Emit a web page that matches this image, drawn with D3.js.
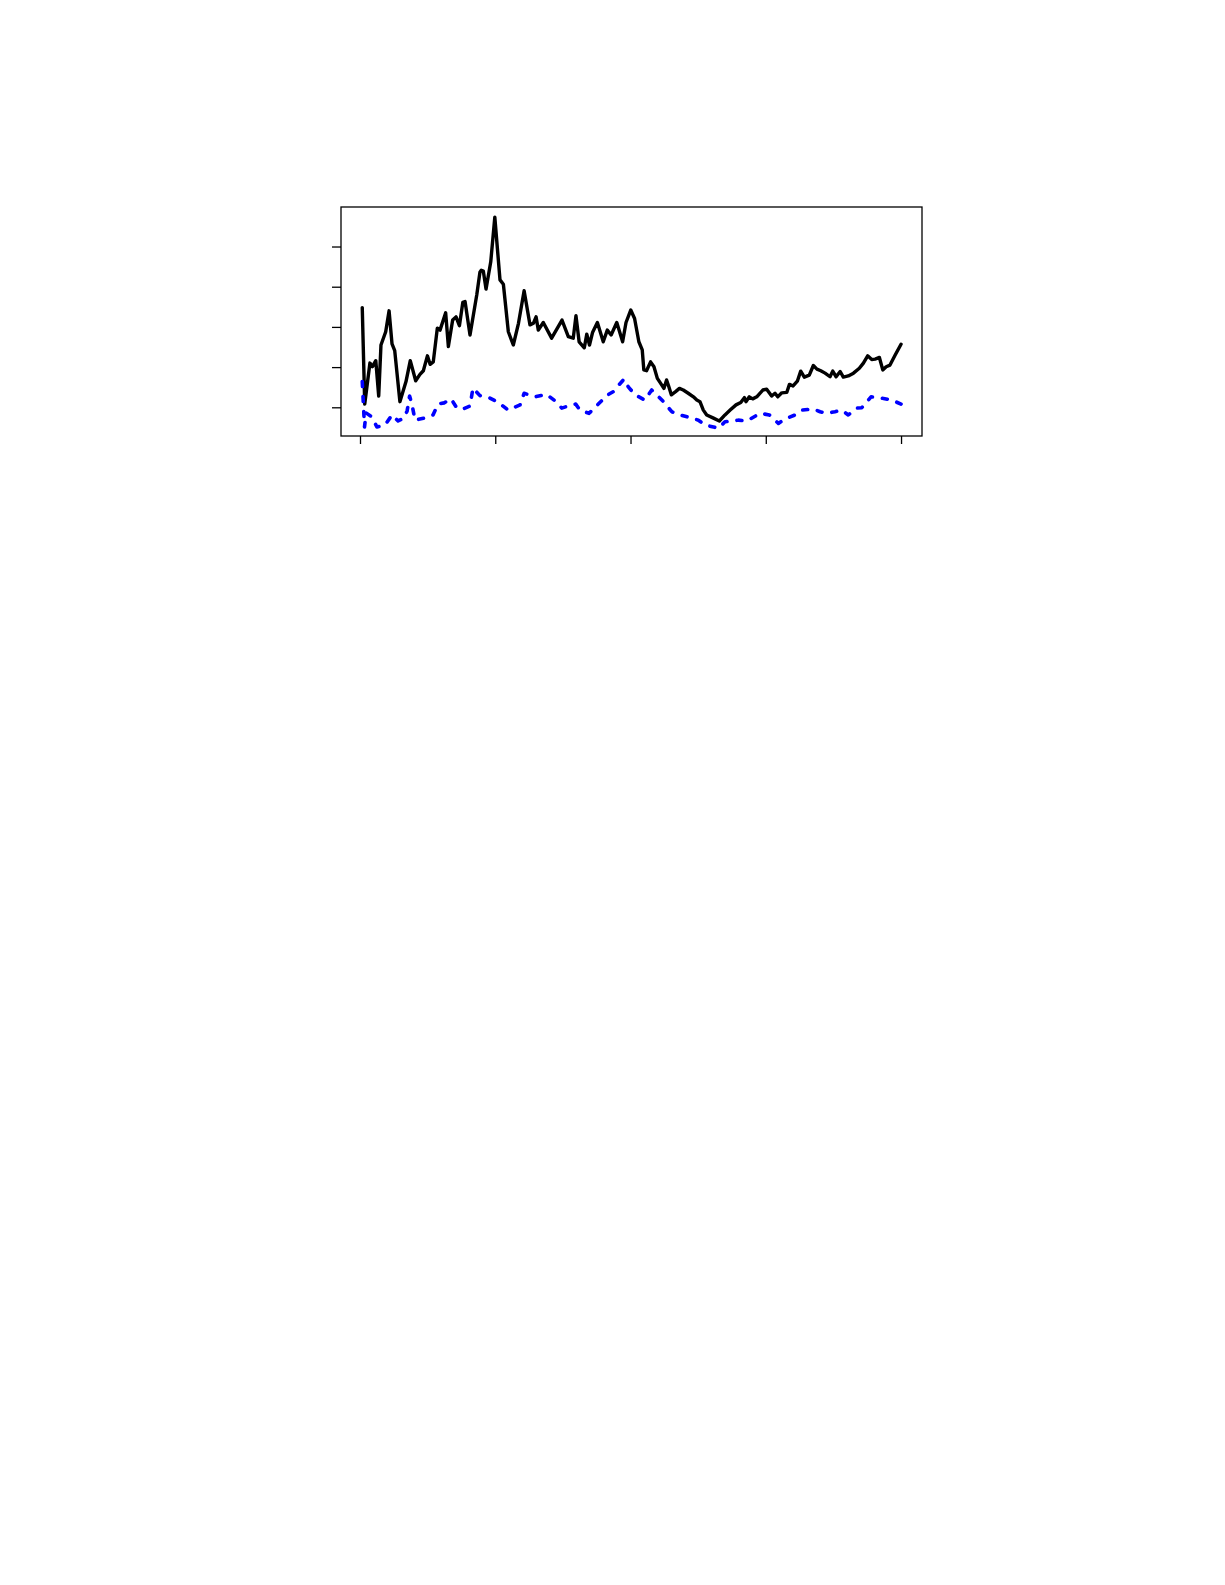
<!DOCTYPE html>
<html>
<head>
<meta charset="utf-8">
<script src="https://cdn.jsdelivr.net/npm/d3@7"></script>
<style>
  html, body { margin: 0; padding: 0; background: #fff; }
  svg { display: block; }
</style>
</head>
<body>
<div id="chart"></div>
<script>
// time index (months) and values
var blackT = [1.0, 2.1, 4.4, 5.5, 7.0, 8.3, 9.3, 11.4, 12.9, 14.2, 15.4, 17.7, 20.4, 22.3, 24.7, 26.6, 28.1, 29.9, 31.1, 32.5,
    34.3, 35.5, 38.0, 39.2, 41.1, 42.6, 44.1, 45.6, 46.6, 48.8, 51.8, 53.2, 53.8, 54.7, 55.9, 58.0, 59.8, 62.1, 63.6, 65.8, 68.0,
    70.3, 72.8, 75.4, 76.9, 78.1, 79.1, 81.3, 85.0, 89.6, 92.4, 94.6, 95.8, 97.2, 99.5, 100.6, 101.8, 103.2, 105.3, 107.9, 109.7, 111.4,
    113.9, 116.5, 118.0, 120.1, 121.8, 123.7, 125.2, 125.9, 127.1, 128.9, 130.4, 131.9, 133.3, 134.8, 136.0, 136.9, 138.1, 140.0, 141.7,
    143.4, 145.6, 147.9, 149.4, 150.8, 152.3, 153.8, 156.8, 159.4, 161.9, 164.2, 166.8, 168.9, 170.5, 171.2, 172.7, 174.2, 176.0,
    178.7, 180.4, 182.6, 184.1, 185.3, 187.1, 189.3, 190.5, 192.1, 194.0, 195.5, 197.1, 199.3, 201.1, 202.7, 204.4, 206.3, 208.5,
    209.7, 211.2, 213.0, 214.4, 216.6, 218.9, 221.5, 223.3, 225.2, 227.0, 228.5, 230.4, 231.9, 233.4, 235.1, 237.4, 240.0];
var blackV = [3.48, 1.08, 2.10, 2.01, 2.16, 1.28, 2.55, 2.88, 3.40, 2.58, 2.41, 1.14, 1.64, 2.16, 1.66, 1.82, 1.91, 2.28, 2.07, 2.13,
    2.97, 2.92, 3.35, 2.51, 3.17, 3.25, 3.03, 3.61, 3.63, 2.80, 3.80, 4.36, 4.41, 4.39, 3.94, 4.62, 5.73, 4.17, 4.06, 2.88, 2.55,
    3.09, 3.90, 3.05, 3.09, 3.25, 2.92, 3.11, 2.72, 3.17, 2.76, 2.72, 3.28, 2.63, 2.48, 2.82, 2.55, 2.87, 3.11, 2.63, 2.92, 2.80,
    3.11, 2.63, 3.11, 3.42, 3.21, 2.63, 2.43, 1.93, 1.91, 2.13, 2.01, 1.72, 1.60, 1.47, 1.68, 1.53, 1.31, 1.39, 1.47,
    1.43, 1.35, 1.26, 1.18, 1.14, 0.93, 0.81, 0.73, 0.66, 0.81, 0.93, 1.06, 1.12, 1.24, 1.14, 1.26, 1.21, 1.26,
    1.43, 1.45, 1.28, 1.35, 1.26, 1.36, 1.37, 1.57, 1.53, 1.65, 1.90, 1.75, 1.80, 2.04, 1.95, 1.91, 1.85, 1.76,
    1.90, 1.76, 1.89, 1.75, 1.78, 1.85, 1.97, 2.10, 2.28, 2.19, 2.20, 2.24, 1.93, 2.01, 2.05, 2.30, 2.57];

var blueT = [1.0, 2.0, 2.7, 5.3, 7.5, 11.1, 14.2, 16.9, 19.5, 20.9, 22.0, 23.1, 24.4, 28.4, 32.4, 34.6, 37.3, 40.4, 43.0, 45.7,
    48.8, 50.1, 53.2, 57.2, 61.7, 65.7, 71.0, 72.8, 77.6, 82.8, 86.5, 89.5, 92.3, 95.7, 97.6, 101.6, 105.7, 109.9, 112.4, 114.9,
    117.1, 119.0, 122.0, 126.4, 129.4, 131.6, 134.6, 138.3, 142.0, 147.2, 150.1, 153.1, 159.0, 161.9, 167.8, 171.6, 177.5, 181.6,
    185.6, 188.6, 193.0, 196.0, 201.1, 204.1, 207.0, 210.7, 213.7, 216.6, 220.3, 222.6, 226.7, 229.2, 232.2, 235.9, 240.0];
var blueV = [1.64, 0.51, 0.86, 0.76, 0.51, 0.56, 0.81, 0.66, 0.73, 0.91, 1.28, 1.06, 0.68, 0.73, 0.81, 1.08, 1.11, 1.21, 0.98, 0.96,
    1.03, 1.48, 1.29, 1.24, 1.11, 0.93, 1.06, 1.35, 1.26, 1.32, 1.16, 0.98, 1.03, 1.08, 0.93, 0.85, 1.08, 1.31, 1.39, 1.56,
    1.70, 1.51, 1.31, 1.18, 1.43, 1.31, 1.14, 0.89, 0.81, 0.73, 0.68, 0.56, 0.48, 0.64, 0.68, 0.66, 0.85, 0.81,
    0.60, 0.71, 0.81, 0.93, 0.96, 0.89, 0.85, 0.89, 0.93, 0.81, 0.98, 0.99, 1.26, 1.24, 1.22, 1.18, 1.08];

var xTicks = [0, 60, 120, 180, 240];
var yTicks = [1, 2, 3, 4, 5];

var width = 1225, height = 1585;
var box = { left: 341, right: 922, top: 207, bottom: 436 };

var svg = d3.select('#chart').append('svg')
    .attr('width', width)
    .attr('height', height);

svg.append('rect')
    .attr('width', width)
    .attr('height', height)
    .attr('fill', '#fff');

var x = d3.scaleLinear().domain([-8.43, 249.3]).range([box.left, box.right]);
var y = d3.scaleLinear().domain([0.286, 5.983]).range([box.bottom, box.top]);

var line = d3.line()
    .x(function (d) { return x(d[0]); })
    .y(function (d) { return y(d[1]); });

var blackData = d3.zip(blackT, blackV),
    blueData = d3.zip(blueT, blueV);

svg.append('path')
    .datum(blackData)
    .attr('d', line)
    .attr('fill', 'none')
    .attr('stroke', '#000')
    .attr('stroke-width', 3.4)
    .attr('stroke-linejoin', 'round')
    .attr('stroke-linecap', 'round');

svg.append('path')
    .datum(blueData)
    .attr('d', line)
    .attr('fill', 'none')
    .attr('stroke', '#0000ff')
    .attr('stroke-width', 3.6)
    .attr('stroke-dasharray', '5,10')
    .attr('stroke-linejoin', 'round')
    .attr('stroke-linecap', 'round');

// axes without labels, like the reference
var xAxis = svg.append('g')
    .attr('transform', 'translate(0,' + box.bottom + ')')
    .call(d3.axisBottom(x).tickValues(xTicks).tickFormat('').tickSizeOuter(0).tickSizeInner(8));
var yAxis = svg.append('g')
    .attr('transform', 'translate(' + box.left + ',0)')
    .call(d3.axisLeft(y).tickValues(yTicks).tickFormat('').tickSizeOuter(0).tickSizeInner(9));

[xAxis, yAxis].forEach(function (g) {
    g.select('.domain').remove();
    g.selectAll('.tick line').attr('stroke', '#000').attr('stroke-width', 1.3);
});

svg.append('rect')
    .attr('x', box.left)
    .attr('y', box.top)
    .attr('width', box.right - box.left)
    .attr('height', box.bottom - box.top)
    .attr('fill', 'none')
    .attr('stroke', '#000')
    .attr('stroke-width', 1.3);
</script>
</body>
</html>
